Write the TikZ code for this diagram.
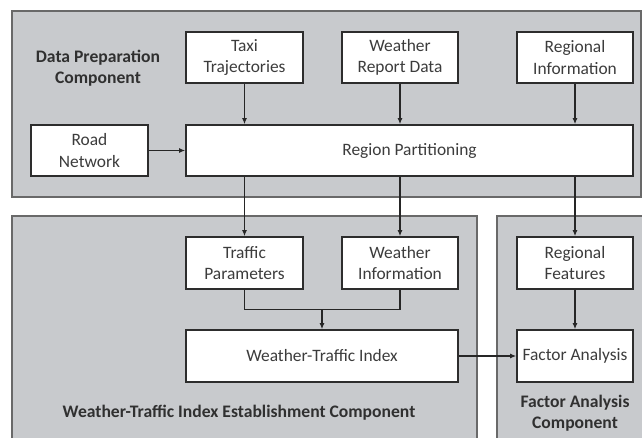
\documentclass[tikz,border=0pt]{standalone}
\usepackage{fontspec}
\setmainfont{Carlito}
\usetikzlibrary{arrows.meta,calc}
\definecolor{grpfill}{RGB}{200,202,205}
\definecolor{grpline}{RGB}{105,105,105}
\definecolor{boxline}{RGB}{45,45,45}
\definecolor{txt}{RGB}{60,60,60}
\tikzset{
  grp/.style={draw=grpline, line width=2pt, fill=grpfill},
  box/.style={draw=boxline, line width=1.6pt, fill=white, align=center,
    inner sep=0pt, font=\fontsize{17.4}{21.5}\selectfont, text=txt},
  grplabel/.style={align=center, font=\fontsize{17.6}{21.5}\selectfont\bfseries, text=txt!80!black},
  conn/.style={draw=black!85, line width=1.3pt, -{Latex[length=6pt,width=5pt]}},
  plain/.style={draw=black!85, line width=1.3pt}
}
\begin{document}
\begin{tikzpicture}[x=1pt,y=-1pt]
\useasboundingbox (0,0) rectangle (642,437);
\fill[white] (0,0) rectangle (642,437);
% group panels
\path[grp] (12,11) rectangle (641,197);
\path[grp] (12,216) rectangle (477,447);
\path[grp] (497,216) rectangle (652,447);
% group labels
\node[grplabel] (lbldp) at (98,68) {Data Preparation\\Component};
\node[grplabel] (lblwt) at (239,413) {Weather-Traffic Index Establishment Component};
\node[grplabel] (lblfa) at (575,413) {Factor Analysis\\Component};
% boxes
\node[box, minimum width=117pt, minimum height=51pt] (taxi) at (244.5,57.5) {Taxi\\Trajectories};
\node[box, minimum width=116pt, minimum height=51pt] (wrd) at (400,57.5) {Weather\\Report Data};
\node[box, minimum width=116pt, minimum height=51pt] (rinfo) at (575,57.5) {Regional\\Information};
\node[box, minimum width=117pt, minimum height=51pt] (road) at (89.5,150.5) {Road\\Network};
\node[box, minimum width=447pt, minimum height=51pt] (rp) at (409.5,150.5) {Region Partitioning};
\node[box, minimum width=117pt, minimum height=52pt] (tp) at (244.5,263) {Traffic\\Parameters};
\node[box, minimum width=116pt, minimum height=52pt] (wi) at (400,263) {Weather\\Information};
\node[box, minimum width=116pt, minimum height=52pt] (rf) at (575,263) {Regional\\Features};
\node[box, minimum width=272pt, minimum height=52pt] (wti) at (322,356) {Weather-Traffic Index};
\node[box, minimum width=116pt, minimum height=52pt] (fa) at (575,356) {Factor Analysis};
% connectors
\draw[conn] (taxi.south) -- (taxi.south |- rp.north);
\draw[conn] (wrd.south) -- (wrd.south |- rp.north);
\draw[conn] (rinfo.south) -- (rinfo.south |- rp.north);
\draw[conn] (road.east) -- (rp.west);
\draw[conn] (rp.south -| tp.north) -- (tp.north);
\draw[conn] (rp.south -| wi.north) -- (wi.north);
\draw[conn] (rp.south -| rf.north) -- (rf.north);
\coordinate (mleft) at ($(tp.south)+(0,20)$);
\draw[plain] (tp.south) |- (wi.south |- mleft) -- (wi.south);
\draw[conn] (wti.north |- mleft) -- (wti.north);
\draw[conn] (rf.south) -- (fa.north);
\draw[conn] (wti.east) -- (fa.west);
\end{tikzpicture}
\end{document}
